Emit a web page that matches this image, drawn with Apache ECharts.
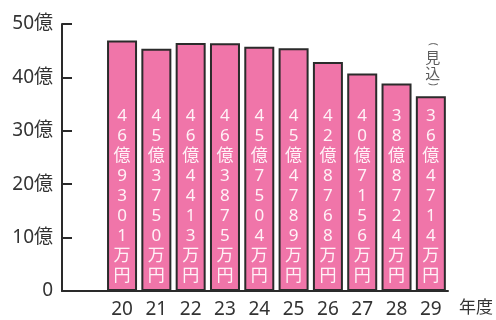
<!DOCTYPE html>
<html>
<head>
<meta charset="utf-8">
<script src="https://cdn.jsdelivr.net/npm/echarts@6/dist/echarts.min.js"></script>
<style>html,body{margin:0;padding:0;background:#fff}#c{width:496px;height:320px}</style>
</head>
<body>
<div id="c"></div>
<script>
// Data
const years = [20, 21, 22, 23, 24, 25, 26, 27, 28, 29];
const values = [46.9301, 45.3750, 46.4413, 46.3875, 45.7504, 45.4789, 42.8768, 40.7156, 38.8724, 36.4714]; // 億円
const valueLabels = ['46億9301万円','45億3750万円','46億4413万円','46億3875万円','45億7504万円','45億4789万円','42億8768万円','40億7156万円','38億8724万円','36億4714万円'];
const yTicks = [0, 10, 20, 30, 40, 50];
const xName = '年度';
const noteText = '見込';
const noteOpen = '(';
const noteClose = ')';

const FONT = "'Noto Sans', 'Noto Sans CJK JP', sans-serif";
const lastPoint = [[years[years.length - 1], values[values.length - 1]]];
const noteBase = {type: 'scatter', symbolSize: 0, data: lastPoint, silent: true};

const chart = echarts.init(document.getElementById('c'), null, {renderer: 'canvas'});
chart.setOption({
  animation: false,
  grid: {left: 62, right: 41, top: 24, bottom: 29, containLabel: false},
  xAxis: {
    type: 'value', min: 18.25, max: 29.5,
    splitLine: {show: false},
    axisTick: {show: false},
    axisLine: {show: true, onZero: false, lineStyle: {color: '#2a2a2a', width: 2}},
    axisLabel: {customValues: years, color: '#333', fontSize: 19, fontFamily: FONT, margin: 9,
      formatter: v => String(v)},
    name: xName, nameLocation: 'end', nameGap: 11,
    nameTextStyle: {color: '#333', fontSize: 17, fontFamily: FONT, verticalAlign: 'top', padding: [9, 0, 0, 0]}
  },
  yAxis: {
    type: 'value', min: 0, max: 50, interval: 10,
    splitLine: {show: false},
    axisLine: {show: true, lineStyle: {color: '#2a2a2a', width: 2}},
    axisTick: {show: true, inside: true, length: 10, lineStyle: {color: '#2a2a2a', width: 2}},
    axisLabel: {color: '#333', fontSize: 19, fontFamily: FONT, margin: 9,
      formatter: v => v === 0 ? '0' : v + '億'}
  },
  series: [
    {
      type: 'bar',
      barWidth: 30,
      data: years.map((y, i) => [y, values[i]]),
      itemStyle: {color: '#F075A9', borderColor: '#2b2b2b', borderWidth: 2},
      label: {
        show: true, position: 'insideBottom', distance: 5,
        color: '#fff2f7', fontSize: 17, lineHeight: 20, fontFamily: FONT,
        formatter: p => valueLabels[p.dataIndex].split('').join('\n')
      }
    },
    Object.assign({}, noteBase, {
      label: {
        show: true, position: 'top', distance: 15, offset: [2, 0],
        color: '#333', fontSize: 15, lineHeight: 16, fontFamily: "'Noto Sans CJK JP', sans-serif",
        formatter: () => noteText.split('').join('\n')
      }
    }),
    Object.assign({}, noteBase, {
      label: {
        show: true, position: [2, -52], rotate: -90, align: 'center', verticalAlign: 'middle',
        color: '#333', fontSize: 10, fontFamily: FONT,
        formatter: () => noteOpen
      }
    }),
    Object.assign({}, noteBase, {
      label: {
        show: true, position: [2, -12], rotate: -90, align: 'center', verticalAlign: 'middle',
        color: '#333', fontSize: 10, fontFamily: FONT,
        formatter: () => noteClose
      }
    })
  ]
});
</script>
</body>
</html>
